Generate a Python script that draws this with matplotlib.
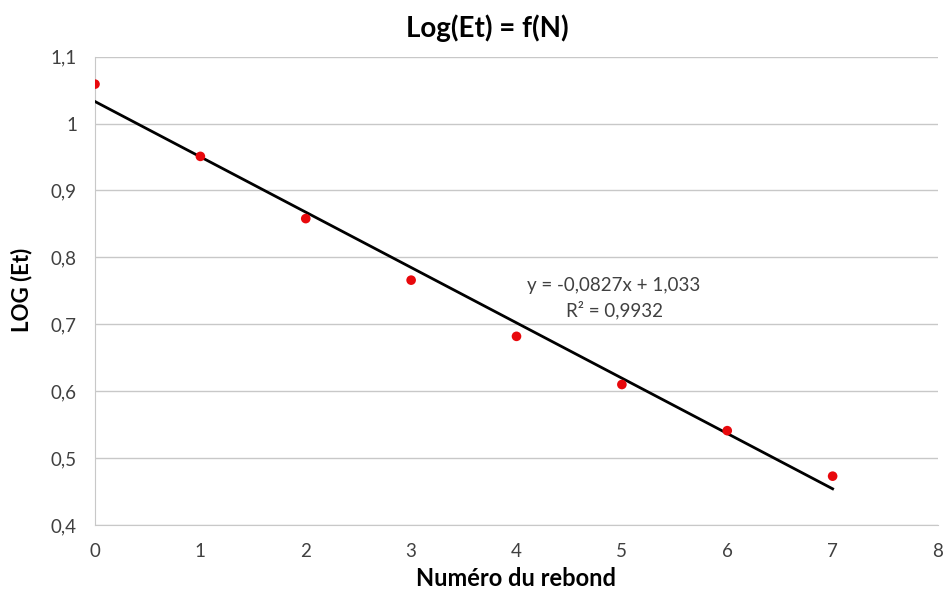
import matplotlib
matplotlib.use("Agg")
import matplotlib.pyplot as plt
from matplotlib.ticker import FuncFormatter, MultipleLocator
import numpy as np

rebond = [0, 1, 2, 3, 4, 5, 6, 7]
log_et = [1.059, 0.951, 0.858, 0.766, 0.682, 0.610, 0.541, 0.473]
slope = -0.0827
intercept = 1.033
eq_text = "y = -0,0827x + 1,033"
r2_text = "R² = 0,9932"

plt.rcParams['font.family'] = ['Lato', 'DejaVu Sans']

fig = plt.figure(figsize=(9.51, 5.98), dpi=100)
ax = fig.add_axes([95/951, 1-525/598, (938-95)/951, (525-56.7)/598])

xs = np.array([rebond[0], rebond[-1]])
ax.plot(xs, slope*xs + intercept, color='black', lw=2.0, zorder=3)
ax.scatter(rebond, log_et, color='#e8080c', s=48, zorder=4, edgecolors='none')

ax.set_xlim(0, 8)
ax.set_ylim(0.4, 1.1)
ax.xaxis.set_major_locator(MultipleLocator(1))
ax.yaxis.set_major_locator(MultipleLocator(0.1))

def fmt(v, pos):
    s = f"{v:.1f}"
    if s.endswith(".0"):
        s = s[:-2]
    return s.replace(".", ",")
ax.yaxis.set_major_formatter(FuncFormatter(fmt))
ax.xaxis.set_major_formatter(FuncFormatter(lambda v, p: f"{int(round(v))}"))

ax.grid(axis='y', color='#c8c8c8', lw=1.0)
ax.set_axisbelow(True)
for s in ['top', 'right']:
    ax.spines[s].set_visible(False)
ax.spines['left'].set_color('#c8c8c8')
ax.spines['bottom'].set_color('#c8c8c8')
ax.tick_params(length=0, labelsize=13.5, colors='#404040', pad=0)
ax.tick_params(axis='y', pad=13)
ax.tick_params(axis='x', pad=13)

fig.text(487/951, 1-28/598, "Log(Et) = f(N)", ha='center', va='center',
         fontsize=20, fontweight='bold', color='black')
fig.text(516/951, 1-578/598, "Numéro du rebond", ha='center', va='center',
         fontsize=17, fontweight='bold', color='black')
fig.text(22/951, 1-290/598, "LOG (Et)", ha='center', va='center', rotation=90,
         fontsize=16, fontweight='bold', color='black')

fig.text(614/951, 1-285/598, eq_text, ha='center', va='center', fontsize=13.5, color='#404040')
fig.text(614/951, 1-310/598, r2_text, ha='center', va='center', fontsize=13.5, color='#404040')

fig.savefig("out.png", dpi=100)
